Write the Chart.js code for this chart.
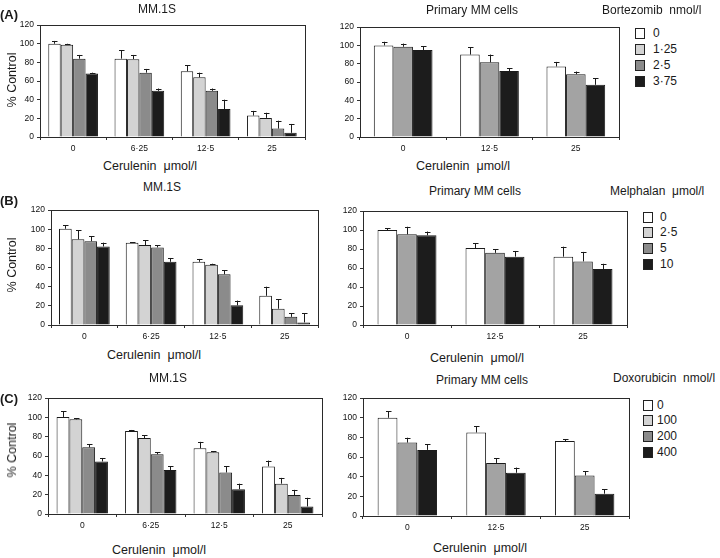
<!DOCTYPE html>
<html>
<head>
<meta charset="utf-8">
<script src="https://cdn.jsdelivr.net/npm/chart.js@4"></script>
<style>
  body { margin: 0; background: #fff; }
  #fig { position: relative; width: 720px; height: 558px; background: #fff; overflow: hidden;
         font-family: "Liberation Sans", Arial, sans-serif; color: #1a1a1a; }
  .t { position: absolute; white-space: nowrap; }
  .sq { position: absolute; width: 8px; height: 9px; border: 1px solid #222; }
</style>
</head>
<body>
<div id="fig"></div>

<script>
    // 横轴分类（Cerulenin 浓度）
    const mmDoses = ['0', '6·25', '12·5', '25'];
    const primaryDoses = ['0', '12·5', '25'];

    // 图例标签
    const bortezomibLegend = ['0', '1·25', '2·5', '3·75'];
    const melphalanLegend = ['0', '2·5', '5', '10'];
    const doxorubicinLegend = ['0', '100', '200', '400'];

    // (A) Bortezomib - MM.1S
    const aMM_0 = [100, 84, 70.5, 23];
    const aMM_0_err = [3, 9, 6.5, 5];
    const aMM_1 = [99, 83.5, 64, 20.5];
    const aMM_1_err = [1, 4.5, 5, 5.5];
    const aMM_2 = [84, 69, 49.5, 9];
    const aMM_2_err = [4, 4, 2.5, 8.5];
    const aMM_3 = [68, 49.5, 30, 4.5];
    const aMM_3_err = [1, 2.5, 10, 9.5];

    // (A) Bortezomib - Primary MM cells
    const aPr_0 = [100, 90, 77];
    const aPr_0_err = [4, 8, 5];
    const aPr_1 = [98.5, 81.5, 68.5];
    const aPr_1_err = [3.5, 8.5, 3];
    const aPr_2 = [95, 72, 57];
    const aPr_2_err = [4, 3, 7];

    // (B) Melphalan - MM.1S
    const bMM_0 = [100.5, 86, 66, 30.5];
    const bMM_0_err = [3.5, 0.6, 3, 9.5];
    const bMM_1 = [89.5, 83.5, 63, 17];
    const bMM_1_err = [9.5, 5, 1, 10];
    const bMM_2 = [87.5, 81, 53, 8.5];
    const bMM_2_err = [5, 2.5, 4, 4];
    const bMM_3 = [82, 66, 20.5, 2.7];
    const bMM_3_err = [4, 4, 5, 9.5];

    // (B) Melphalan - Primary MM cells
    const bPr_0 = [100, 81, 72];
    const bPr_0_err = [1.7, 5, 10.5];
    const bPr_1 = [95.5, 76, 67];
    const bPr_1_err = [8, 4, 10];
    const bPr_2 = [94.5, 72, 59];
    const bPr_2_err = [4, 6, 5.5];

    // (C) Doxorubicin - MM.1S
    const cMM_0 = [100.5, 86, 68, 49.3];
    const cMM_0_err = [6, 1, 6.7, 6];
    const cMM_1 = [98, 78.7, 64, 31.4];
    const cMM_1_err = [1, 2.7, 1, 6];
    const cMM_2 = [69, 61.8, 43, 19.6];
    const cMM_2_err = [3, 2, 6.3, 5.4];
    const cMM_3 = [54.4, 45.6, 25.7, 7.8];
    const cMM_3_err = [3.6, 3.7, 5.7, 9];

    // (C) Doxorubicin - Primary MM cells
    const cPr_0 = [100, 85, 76.3];
    const cPr_0_err = [6.7, 6.3, 2];
    const cPr_1 = [74.7, 54, 41.3];
    const cPr_1_err = [5, 5, 4];
    const cPr_2 = [67.3, 44, 22.7];
    const cPr_2_err = [5.7, 5.3, 4.6];

    // 颜色
    const WHITE = '#ffffff', LIGHT = '#d3d3d3', DARK = '#8b8b8b', BLACK = '#1c1c1c', MID = '#a3a3a3';
    const legendColors = [WHITE, LIGHT, DARK, BLACK];
    const FONT = '"Liberation Sans", Arial, sans-serif';

    const fig = document.getElementById('fig');

    // 误差线插件
    const errorBars = {
        id: 'errorBars',
        afterDatasetsDraw(chart) {
            const ctx = chart.ctx;
            const y = chart.scales.y;
            ctx.save();
            ctx.strokeStyle = '#1a1a1a';
            ctx.lineWidth = 1;
            chart.data.datasets.forEach((ds, i) => {
                chart.getDatasetMeta(i).data.forEach((bar, j) => {
                    const top = y.getPixelForValue(ds.data[j] + ds.errs[j]);
                    const x = Math.round(bar.x) + 0.5;
                    ctx.beginPath();
                    ctx.moveTo(x, bar.y);
                    ctx.lineTo(x, top);
                    ctx.moveTo(x - 2.5, Math.round(top) + 0.5);
                    ctx.lineTo(x + 3, Math.round(top) + 0.5);
                    ctx.stroke();
                });
            });
            ctx.restore();
        }
    };

    // 外框
    const frame = {
        id: 'frame',
        afterDraw(chart) {
            const a = chart.chartArea, ctx = chart.ctx;
            ctx.save();
            ctx.strokeStyle = '#2a2a2a';
            ctx.lineWidth = 1;
            ctx.strokeRect(Math.round(a.left) + 0.5, Math.round(a.top) + 0.5,
                Math.round(a.right - a.left), Math.round(a.bottom - a.top));
            ctx.restore();
        }
    };

    function addText(txt, x, y, opts = {}) {
        const d = document.createElement('div');
        d.className = 't';
        d.textContent = txt;
        d.style.left = x + 'px';
        d.style.top = y + 'px';
        d.style.fontSize = (opts.size || 12) + 'px';
        if (opts.bold) d.style.fontWeight = 'bold';
        let tf = opts.anchor === 'left' ? 'translate(0,-50%)' : 'translate(-50%,-50%)';
        if (opts.rotate) tf += ' rotate(-90deg)';
        d.style.transform = tf;
        fig.appendChild(d);
    }

    function addLegend(x, ys, labels, textX) {
        labels.forEach((lab, i) => {
            const s = document.createElement('div');
            s.className = 'sq';
            s.style.left = x + 'px';
            s.style.top = (ys[i] - 5) + 'px';
            s.style.background = legendColors[i];
            fig.appendChild(s);
            addText(lab, textX, ys[i], { anchor: 'left', size: 12 });
        });
    }

    function drawPanel(box, labels, series, catPct) {
        const padL = 32, padT = 6, padR = 4, axisH = 22;
        const w = box.R - box.L + padL + padR;
        const h = box.B - box.T + padT + axisH;
        const cv = document.createElement('canvas');
        cv.width = w;
        cv.height = h;
        cv.style.cssText = `position:absolute;left:${box.L - padL}px;top:${box.T - padT}px;width:${w}px;height:${h}px`;
        fig.appendChild(cv);

        new Chart(cv, {
            type: 'bar',
            data: {
                labels: labels,
                datasets: series.map(s => ({
                    data: s.data,
                    errs: s.err,
                    backgroundColor: s.color,
                    borderColor: '#1a1a1a',
                    borderWidth: 1,
                    barPercentage: 1,
                    categoryPercentage: catPct
                }))
            },
            options: {
                responsive: false,
                animation: false,
                devicePixelRatio: 1,
                layout: { padding: { top: padT, right: padR, left: 0, bottom: 0 } },
                plugins: { legend: { display: false }, tooltip: { enabled: false } },
                scales: {
                    x: {
                        grid: { display: true, drawOnChartArea: false, offset: true, tickLength: 3, color: '#333' },
                        border: { color: '#2a2a2a', width: 1 },
                        ticks: { font: { family: FONT, size: 8.5 }, color: '#111', padding: 4, maxRotation: 0 },
                        afterFit: s => { s.height = axisH; }
                    },
                    y: {
                        min: 0,
                        max: 120,
                        grid: { display: true, drawOnChartArea: false, tickLength: 3, color: '#333' },
                        border: { color: '#2a2a2a', width: 1 },
                        ticks: { stepSize: 20, font: { family: FONT, size: 8.5 }, color: '#111', padding: 3 },
                        afterFit: s => { s.width = padL; }
                    }
                }
            },
            plugins: [errorBars, frame]
        });
    }

    // ---------- (A) ----------
    drawPanel({ L: 40, R: 305, T: 23, B: 137 }, mmDoses, [
        { data: aMM_0, err: aMM_0_err, color: WHITE },
        { data: aMM_1, err: aMM_1_err, color: LIGHT },
        { data: aMM_2, err: aMM_2_err, color: DARK },
        { data: aMM_3, err: aMM_3_err, color: BLACK }
    ], 0.75);
    drawPanel({ L: 360, R: 619, T: 25, B: 137 }, primaryDoses, [
        { data: aPr_0, err: aPr_0_err, color: WHITE },
        { data: aPr_1, err: aPr_1_err, color: MID },
        { data: aPr_2, err: aPr_2_err, color: BLACK }
    ], 0.68);
    addText('(A)', 0, 14, { anchor: 'left', size: 13, bold: true });
    addText('MM.1S', 157, 9, { size: 12 });
    addText('% Control', 12, 80, { size: 12.5, rotate: true });
    addText('Cerulenin\u00a0 μmol/l', 150, 166, { size: 12.5 });
    addText('Primary MM cells', 472, 10, { size: 12 });
    addText('Bortezomib\u00a0 nmol/l', 602, 10, { anchor: 'left', size: 12 });
    addText('Cerulenin\u00a0 μmol/l', 463, 166, { size: 12.5 });
    addLegend(635, [33, 49, 65, 81], bortezomibLegend, 653);

    // ---------- (B) ----------
    drawPanel({ L: 51, R: 318, T: 208, B: 325 }, mmDoses, [
        { data: bMM_0, err: bMM_0_err, color: WHITE },
        { data: bMM_1, err: bMM_1_err, color: LIGHT },
        { data: bMM_2, err: bMM_2_err, color: DARK },
        { data: bMM_3, err: bMM_3_err, color: BLACK }
    ], 0.76);
    drawPanel({ L: 363, R: 627, T: 209, B: 325 }, primaryDoses, [
        { data: bPr_0, err: bPr_0_err, color: WHITE },
        { data: bPr_1, err: bPr_1_err, color: MID },
        { data: bPr_2, err: bPr_2_err, color: BLACK }
    ], 0.67);
    addText('(B)', 0, 200, { anchor: 'left', size: 13, bold: true });
    addText('MM.1S', 162, 187, { size: 12 });
    addText('% Control', 12, 265, { size: 12.5, rotate: true });
    addText('Cerulenin\u00a0 μmol/l', 154, 355, { size: 12.5 });
    addText('Primary MM cells', 475, 191, { size: 12 });
    addText('Melphalan\u00a0 μmol/l', 610, 191, { anchor: 'left', size: 12 });
    addText('Cerulenin\u00a0 μmol/l', 477, 358, { size: 12.5 });
    addLegend(643, [217, 232, 248, 264], melphalanLegend, 660);

    // ---------- (C) ----------
    drawPanel({ L: 48, R: 322, T: 396, B: 514 }, mmDoses, [
        { data: cMM_0, err: cMM_0_err, color: WHITE },
        { data: cMM_1, err: cMM_1_err, color: LIGHT },
        { data: cMM_2, err: cMM_2_err, color: DARK },
        { data: cMM_3, err: cMM_3_err, color: BLACK }
    ], 0.75);
    drawPanel({ L: 363, R: 629, T: 396, B: 516 }, primaryDoses, [
        { data: cPr_0, err: cPr_0_err, color: WHITE },
        { data: cPr_1, err: cPr_1_err, color: MID },
        { data: cPr_2, err: cPr_2_err, color: BLACK }
    ], 0.67);
    addText('(C)', 0, 398, { anchor: 'left', size: 13, bold: true });
    addText('MM.1S', 168, 378, { size: 12 });
    addText('% Control', 12, 450, { size: 12.5, rotate: true });
    addText('Cerulenin\u00a0 μmol/l', 159, 550, { size: 12.5 });
    addText('Primary MM cells', 482, 380, { size: 12 });
    addText('Doxorubicin\u00a0 nmol/l', 613, 378, { anchor: 'left', size: 12 });
    addText('Cerulenin\u00a0 μmol/l', 480, 548, { size: 12.5 });
    addLegend(643, [405, 420, 436, 452], doxorubicinLegend, 657);
</script>
</body>
</html>
